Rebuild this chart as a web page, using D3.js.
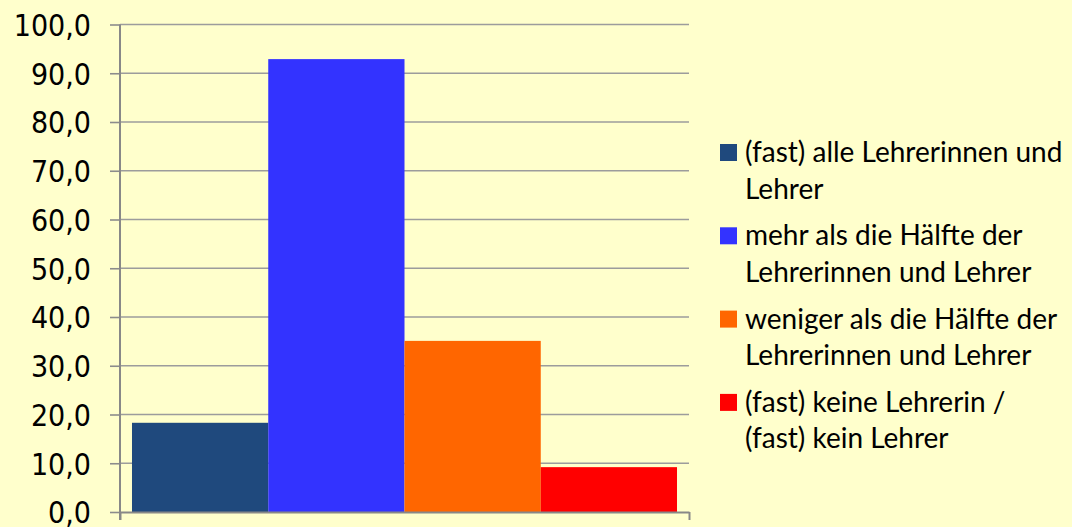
<!DOCTYPE html>
<html>
<head>
<meta charset="utf-8">
<script src="https://cdn.jsdelivr.net/npm/d3@7"></script>
<style>
  html, body { margin: 0; padding: 0; background: #FFFFCC; }
  svg { display: block; }
</style>
</head>
<body>
<svg id="chart" width="1072" height="527"></svg>
<script>
// chart data
const seriesNames = [
  ["(fast) alle Lehrerinnen und", "Lehrer"],
  ["mehr als die Hälfte der", "Lehrerinnen und Lehrer"],
  ["weniger als die Hälfte der", "Lehrerinnen und Lehrer"],
  ["(fast) keine Lehrerin /", "(fast) kein Lehrer"]
]
const values = [18.3, 92.9, 35.1, 9.2]
const colors = ["#1F497D", "#3333FF", "#FF6600", "#FF0000"]
const yTicks = [0, 10, 20, 30, 40, 50, 60, 70, 80, 90, 100]

const svg = d3.select("#chart")

// plot area
const plotLeft = 120, plotRight = 689, plotTop = 24.5, plotBottom = 512

const y = d3.scaleLinear().domain([0, 100]).range([plotBottom, plotTop])

// one category, four series side by side
const x0 = d3.scaleBand().domain(["all"]).range([plotLeft, plotRight]).paddingOuter(0.022)
const x1 = d3.scaleBand().domain(d3.range(values.length)).range([0, x0.bandwidth()])

const de = d3.formatLocale({ decimal: ",", thousands: ".", grouping: [3], currency: ["", " €"] })
const fmt = de.format(".1f")

// grid lines
svg.append("g")
  .selectAll("line")
  .data(yTicks.filter(d => d > 0))
  .join("line")
    .attr("x1", plotLeft)
    .attr("x2", plotRight)
    .attr("y1", d => y(d))
    .attr("y2", d => y(d))
    .attr("stroke", "#9C9C9C")
    .attr("stroke-width", 1.6)

// bars
svg.append("g")
  .attr("transform", `translate(${x0("all")},0)`)
  .selectAll("rect")
  .data(values)
  .join("rect")
    .attr("x", (d, i) => x1(i))
    .attr("width", x1.bandwidth())
    .attr("y", d => y(d))
    .attr("height", d => y(0) - y(d))
    .attr("fill", (d, i) => colors[i])

// y axis
const yAxis = svg.append("g")
  .attr("transform", `translate(${plotLeft},0)`)
  .call(d3.axisLeft(y).tickValues(yTicks).tickFormat(fmt).tickSize(10).tickPadding(19))
yAxis.select(".domain").remove()
yAxis.selectAll(".tick line").attr("stroke", "#8C8C8C").attr("stroke-width", 1.6)
yAxis.selectAll("text")
  .attr("fill", "#000")
  .attr("dy", "0.36em")
  .style("font-family", "'DejaVu Sans Condensed', 'DejaVu Sans', sans-serif")
  .style("font-stretch", "condensed")
  .style("font-size", "30px")
yAxis.append("line")
  .attr("x1", 0).attr("x2", 0)
  .attr("y1", plotTop).attr("y2", plotBottom + 8)
  .attr("stroke", "#888").attr("stroke-width", 2)

// x axis (category edges only)
const xEdge = d3.scaleLinear().domain([0, 1]).range([plotLeft, plotRight])
const xAxis = svg.append("g")
  .attr("transform", `translate(0,${plotBottom})`)
  .call(d3.axisBottom(xEdge).tickValues([0, 1]).tickFormat("").tickSize(8).tickSizeOuter(0))
xAxis.select(".domain").attr("stroke", "#888").attr("stroke-width", 2)
xAxis.selectAll(".tick line").attr("stroke", "#888").attr("stroke-width", 2)

// legend
const legend = svg.append("g").attr("transform", "translate(720,0)")
const entry = legend.selectAll("g")
  .data(seriesNames)
  .join("g")
    .attr("transform", (d, i) => `translate(0,${144 + i * 83.3})`)

entry.append("rect")
  .attr("width", 17)
  .attr("height", 17)
  .attr("fill", (d, i) => colors[i])

entry.append("text")
  .attr("x", 25)
  .style("font-family", "Lato, 'Open Sans', sans-serif")
  .style("font-size", "28px")
  .attr("fill", "#000")
  .selectAll("tspan")
  .data(d => d)
  .join("tspan")
    .attr("x", 25)
    .attr("y", (d, i) => 18 + i * 36.6)
    .text(d => d)
</script>
</body>
</html>
